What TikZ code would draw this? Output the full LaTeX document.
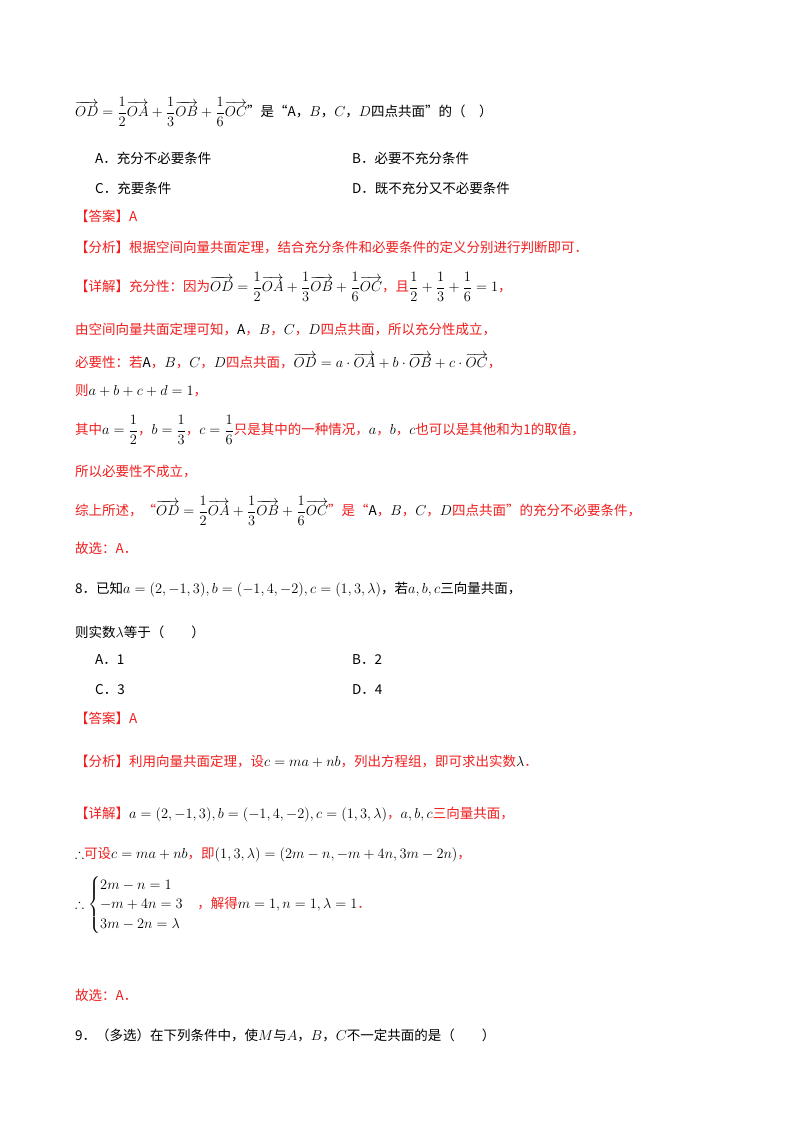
\documentclass[tikz,border=0pt]{standalone}
\usepackage{amsmath,amssymb}
\usepackage{fontspec}
\setmainfont{Noto Sans CJK SC}
\definecolor{ans}{RGB}{240,30,30}
\newcommand{\vv}[1]{\overrightarrow{#1}}
\begin{document}
\begin{tikzpicture}[x=1pt,y=-1pt,
  t/.style={anchor=west,inner sep=0pt,font=\fontsize{13.5}{16}\selectfont},
  r/.style={t,text=ans}]
\useasboundingbox (0,0) rectangle (800,1132);
\fill[white] (0,0) rectangle (800,1132);
\node[t] (q1) at (75,112) {$\vv{OD}=\dfrac{1}{2}\vv{OA}+\dfrac{1}{3}\vv{OB}+\dfrac{1}{6}\vv{OC}$”是“$\mathrm{A}$，$B$，$C$，$D$四点共面”的（\quad）};
\node[t] (oa) at (95,158) {A．充分不必要条件};
\node[t] (ob) at (352,158) {B．必要不充分条件};
\node[t] (oc) at (95,188) {C．充要条件};
\node[t] (od) at (352,188) {D．既不充分又不必要条件};
\node[r] (a1) at (75,216) {【答案】A};
\node[r] (f1) at (75,248) {【分析】根据空间向量共面定理，结合充分条件和必要条件的定义分别进行判断即可．};
\node[r] (x1) at (75,287) {【详解】充分性：因为\textcolor{black}{$\vv{OD}=\dfrac{1}{2}\vv{OA}+\dfrac{1}{3}\vv{OB}+\dfrac{1}{6}\vv{OC}$}，且\textcolor{black}{$\dfrac{1}{2}+\dfrac{1}{3}+\dfrac{1}{6}=1$}，};
\node[r] (x2) at (75,330) {由空间向量共面定理可知，\textcolor{black}{$\mathrm{A}$}，\textcolor{black}{$B$}，\textcolor{black}{$C$}，\textcolor{black}{$D$}四点共面，所以充分性成立，};
\node[r] (x3) at (75,361) {必要性：若\textcolor{black}{$\mathrm{A}$}，\textcolor{black}{$B$}，\textcolor{black}{$C$}，\textcolor{black}{$D$}四点共面，\textcolor{black}{$\vv{OD}=a\cdot\vv{OA}+b\cdot\vv{OB}+c\cdot\vv{OC}$}，};
\node[r] (x4) at (75,391) {则\textcolor{black}{$a+b+c+d=1$}，};
\node[r] (x5) at (75,430) {其中\textcolor{black}{$a=\dfrac{1}{2}$}，\textcolor{black}{$b=\dfrac{1}{3}$}，\textcolor{black}{$c=\dfrac{1}{6}$}只是其中的一种情况，\textcolor{black}{$a$}，\textcolor{black}{$b$}，\textcolor{black}{$c$}也可以是其他和为1的取值，};
\node[r] (x6) at (75,472) {所以必要性不成立，};
\node[r] (x7) at (75,511) {综上所述，“\textcolor{black}{$\vv{OD}=\dfrac{1}{2}\vv{OA}+\dfrac{1}{3}\vv{OB}+\dfrac{1}{6}\vv{OC}$}”是“\textcolor{black}{$\mathrm{A}$}，\textcolor{black}{$B$}，\textcolor{black}{$C$}，\textcolor{black}{$D$}四点共面”的充分不必要条件，};
\node[r] (x8) at (75,548) {故选：A．};
\node[t] (q2) at (75,590) {8．已知$a=(2,-1,3),b=(-1,4,-2),c=(1,3,\lambda)$，若$a,b,c$三向量共面，};
\node[t] (q2b) at (75,632) {则实数$\lambda$等于（\qquad）};
\node[t] (pa) at (95,660) {A．1};
\node[t] (pb) at (352,660) {B．2};
\node[t] (pc) at (95,690) {C．3};
\node[t] (pd) at (352,690) {D．4};
\node[r] (a2) at (75,718) {【答案】A};
\node[r] (f2) at (75,761) {【分析】利用向量共面定理，设\textcolor{black}{$c=ma+nb$}，列出方程组，即可求出实数\textcolor{black}{$\lambda$}．};
\node[r] (y1) at (75,815) {【详解】\textcolor{black}{$a=(2,-1,3),b=(-1,4,-2),c=(1,3,\lambda)$}，\textcolor{black}{$a,b,c$}三向量共面，};
\node[r] (y2) at (75,855) {\textcolor{black}{$\therefore$}可设\textcolor{black}{$c=ma+nb$}，即\textcolor{black}{$(1,3,\lambda)=(2m-n,-m+4n,3m-2n)$}，};
\node[r] (y3) at (75,905) {\textcolor{black}{$\therefore\begin{cases}2m-n=1\\-m+4n=3\\3m-2n=\lambda\end{cases}$}，解得\textcolor{black}{$m=1,n=1,\lambda=1$}．};
\node[r] (y4) at (75,995) {故选：A．};
\node[t] (q3) at (75,1035) {9．（多选）在下列条件中，使$M$与$A$，$B$，$C$不一定共面的是（\qquad）};
\end{tikzpicture}
\end{document}
